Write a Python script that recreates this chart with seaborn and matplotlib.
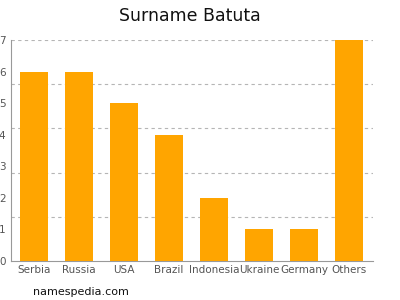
import matplotlib
matplotlib.use("Agg")
import matplotlib.pyplot as plt
import seaborn as sns
import numpy as np
import pandas as pd

countries = ["Serbia", "Russia", "USA", "Brazil", "Indonesia", "Ukraine", "Germany", "Others"]
counts = [6, 6, 5, 4, 2, 1, 1, 7]
yticks = [0, 1, 2, 3, 4, 5, 6, 7]
grid_levels = [1.4, 2.8, 4.2, 5.6, 7.0]

sns.set_style("white")
plt.rcParams['font.family'] = ['DejaVu Sans']

fig = plt.figure(figsize=(4, 3), dpi=100)
ax = fig.add_axes([0.0275, 0.13, 0.905, 0.7367])

df = pd.DataFrame({"country": countries, "count": counts})
sns.barplot(data=df, x="country", y="count", color="#FFA500", saturation=1, width=0.62,
            linewidth=0, ax=ax, zorder=3)

for g in grid_levels:
    ax.axhline(g, color="#b5b5b5", linestyle=(0, (3, 3)), linewidth=0.8, zorder=1)

ax.set_ylim(0, 7)
ax.set_xlim(-0.51, 7.53)
ax.set_yticks(yticks)
ax.set_yticklabels([str(t) for t in yticks])
ax.set_xlabel("")
ax.set_ylabel("")
for s in ["top", "right"]:
    ax.spines[s].set_visible(False)
for s in ["left", "bottom"]:
    ax.spines[s].set_color("#999999")
    ax.spines[s].set_linewidth(0.8)
ax.tick_params(axis="y", length=3, width=0.8, color="#999999", labelsize=7.5, labelcolor="#555555", pad=1)
ax.tick_params(axis="x", length=0, labelsize=7.5, labelcolor="#555555", pad=3)

fig.text(0.475, 0.948, "Surname Batuta", ha="center", va="center", fontsize=12.5, color="#111111")
fig.text(0.083, 0.028, "namespedia.com", ha="left", va="center", fontsize=8, color="#111111")

fig.savefig("out.png", dpi=100)
